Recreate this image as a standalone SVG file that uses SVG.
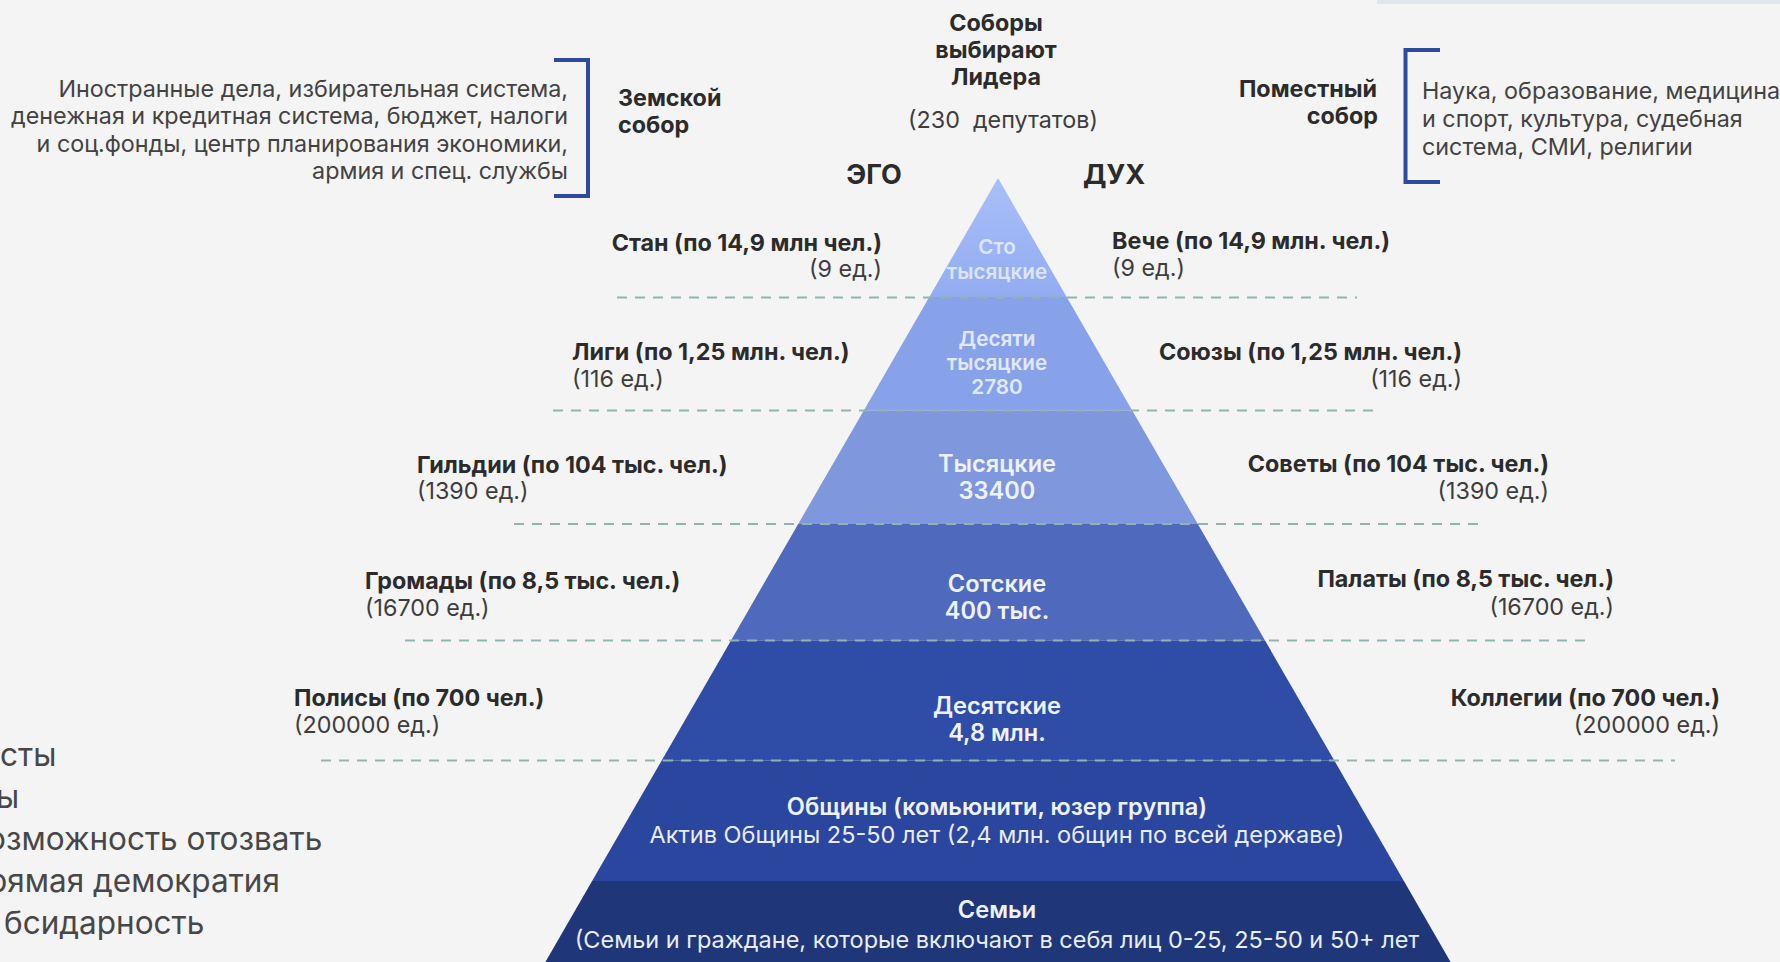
<svg xmlns="http://www.w3.org/2000/svg" width="1780" height="962" viewBox="0 0 1780 962">
<style>
text{font-family:Inter,"Noto Sans","Liberation Sans",sans-serif}
.lbl{font-size:23.3px;font-weight:700;fill:#2b2b2b}
.sub{font-size:23.3px;font-weight:400;fill:#3d3d3d}
.desc{font-size:23.3px;font-weight:400;fill:#424242}
.head{font-size:27px;font-weight:700;fill:#2b2b2b}
.inS{font-size:20.7px;font-weight:600;text-anchor:middle}
.inL{font-size:23.6px;font-weight:600;text-anchor:middle;fill:#eef2fc}
.inR{font-size:23.5px;font-weight:400;text-anchor:middle;fill:#e8edfa}
.list{font-size:31.5px;font-weight:400;fill:#474747}
.end{text-anchor:end}
.mid{text-anchor:middle}
.dash{stroke:#8fb4b2;stroke-width:2;stroke-dasharray:10 8;fill:none}
.brk{stroke:#2d4b9e;stroke-width:4;fill:none}
</style>
<defs>
<linearGradient id="g1" x1="0" y1="0" x2="0" y2="1">
<stop offset="0" stop-color="#a8bff9"/>
<stop offset="1" stop-color="#93acf0"/>
</linearGradient>
</defs>
<rect x="0" y="0" width="1780" height="962" fill="#f4f4f4"/>
<rect x="1377" y="0" width="403" height="4" fill="#e2e5ea"/>

<g id="pyramid">
<polygon points="998,178 1066.7,297 929.3,297" fill="url(#g1)"/>
<polygon points="929.3,297 1066.7,297 1132.2,410.5 863.8,410.5" fill="#88a2ea"/>
<polygon points="863.8,410.5 1132.2,410.5 1197.8,524 798.2,524" fill="#7f97dc"/>
<polygon points="798.2,524 1197.8,524 1265,640.5 731,640.5" fill="#4f6abd"/>
<polygon points="731,640.5 1265,640.5 1334.3,760.5 661.7,760.5" fill="#2f4ca7"/>
<polygon points="661.7,760.5 1334.3,760.5 1403.9,881 592.1,881" fill="#2b469e"/>
<polygon points="592.1,881 1403.9,881 1450.6,962 545.4,962" fill="#1f3679"/>
</g>

<g id="connectors">
<line class="dash" x1="617" y1="297.5" x2="1357" y2="297.5"/>
<line class="dash" x1="553" y1="410.5" x2="1378" y2="410.5"/>
<line class="dash" x1="514" y1="524" x2="1480" y2="524"/>
<line class="dash" x1="405" y1="640.5" x2="1592" y2="640.5"/>
<line class="dash" x1="321" y1="760.5" x2="1675" y2="760.5"/>
</g>

<g id="band-sto">
<text class="inS" x="997" y="254" fill="#dce5fb">Сто</text>
<text class="inS" x="997" y="279" fill="#dce5fb">тысяцкие</text>
</g>
<g id="band-desyati">
<text class="inS" x="997" y="346" fill="#e2e9fb">Десяти</text>
<text class="inS" x="997" y="370" fill="#e2e9fb">тысяцкие</text>
<text class="inS" x="997" y="394" fill="#e2e9fb">2780</text>
</g>
<g id="band-tysyatskie">
<text class="inL" x="997" y="472">Тысяцкие</text>
<text class="inL" x="997" y="499">33400</text>
</g>
<g id="band-sotskie">
<text class="inL" x="997" y="592">Сотские</text>
<text class="inL" x="997" y="619">400 тыс.</text>
</g>
<g id="band-desyatskie">
<text class="inL" x="997" y="714">Десятские</text>
<text class="inL" x="997" y="741">4,8 млн.</text>
</g>
<g id="band-obshchiny">
<text class="inL" x="997" y="815">Общины (комьюнити, юзер группа)</text>
<text class="inR" x="997" y="843">Актив Общины 25-50 лет (2,4 млн. общин по всей державе)</text>
</g>
<g id="band-semyi">
<text class="inL" x="997" y="918">Семьи</text>
<text class="inR" x="997" y="948">(Семьи и граждане, которые включают в себя лиц 0-25, 25-50 и 50+ лет</text>
</g>

<g id="zemsky-sobor">
<text class="desc end" x="568" y="96.5">Иностранные дела, избирательная система,</text>
<text class="desc end" x="568" y="124">денежная и кредитная система, бюджет, налоги</text>
<text class="desc end" x="568" y="151.5">и соц.фонды, центр планирования экономики,</text>
<text class="desc end" x="568" y="179">армия и спец. службы</text>
<path class="brk" d="M554,60 H588 V196 H554"/>
<text class="lbl" x="618" y="106">Земской</text>
<text class="lbl" x="618" y="133">собор</text>
</g>

<g id="sobory">
<text class="lbl mid" x="996" y="31">Соборы</text>
<text class="lbl mid" x="996" y="58">выбирают</text>
<text class="lbl mid" x="996" y="85">Лидера</text>
<text class="sub mid" x="1003" y="128" xml:space="preserve">(230  депутатов)</text>
</g>

<g id="ego"><text class="head mid" x="874" y="183.5">ЭГО</text></g>
<g id="dukh"><text class="head mid" x="1114" y="183.5">ДУХ</text></g>

<g id="pomestny-sobor">
<text class="lbl end" x="1377" y="96.5">Поместный</text>
<text class="lbl end" x="1378" y="124">собор</text>
<path class="brk" d="M1440,50 H1405.5 V182 H1440"/>
<text class="desc" x="1422" y="99">Наука, образование, медицина</text>
<text class="desc" x="1422" y="127">и спорт, культура, судебная</text>
<text class="desc" x="1422" y="155">система, СМИ, религии</text>
</g>

<g id="stan">
<text class="lbl end" x="882" y="250.5">Стан (по 14,9 млн чел.)</text>
<text class="sub end" x="882" y="277">(9 ед.)</text>
</g>
<g id="ligi">
<text class="lbl" x="572" y="360">Лиги (по 1,25 млн. чел.)</text>
<text class="sub" x="572" y="386.5">(116 ед.)</text>
</g>
<g id="gildii">
<text class="lbl" x="417" y="472.5">Гильдии (по 104 тыс. чел.)</text>
<text class="sub" x="417" y="499">(1390 ед.)</text>
</g>
<g id="gromady">
<text class="lbl" x="365" y="589">Громады (по 8,5 тыс. чел.)</text>
<text class="sub" x="365" y="615.5">(16700 ед.)</text>
</g>
<g id="polisy">
<text class="lbl" x="294" y="706">Полисы (по 700 чел.)</text>
<text class="sub" x="294" y="733">(200000 ед.)</text>
</g>

<g id="veche">
<text class="lbl" x="1112" y="248.5">Вече (по 14,9 млн. чел.)</text>
<text class="sub" x="1112" y="276">(9 ед.)</text>
</g>
<g id="soyuzy">
<text class="lbl end" x="1462" y="359.5">Союзы (по 1,25 млн. чел.)</text>
<text class="sub end" x="1462" y="386.5">(116 ед.)</text>
</g>
<g id="sovety">
<text class="lbl end" x="1549" y="472">Советы (по 104 тыс. чел.)</text>
<text class="sub end" x="1549" y="499">(1390 ед.)</text>
</g>
<g id="palaty">
<text class="lbl end" x="1614" y="587">Палаты (по 8,5 тыс. чел.)</text>
<text class="sub end" x="1614" y="615">(16700 ед.)</text>
</g>
<g id="kollegii">
<text class="lbl end" x="1720" y="705.5">Коллегии (по 700 чел.)</text>
<text class="sub end" x="1720" y="733">(200000 ед.)</text>
</g>

<g id="principles">
<text class="list" x="0" y="766">сты</text>
<text class="list" x="-4" y="808">ы</text>
<text class="list" x="-13" y="850">озможность отозвать</text>
<text class="list" x="-12" y="892">рямая демократия</text>
<text class="list" x="4" y="934">бсидарность</text>
</g>
</svg>
